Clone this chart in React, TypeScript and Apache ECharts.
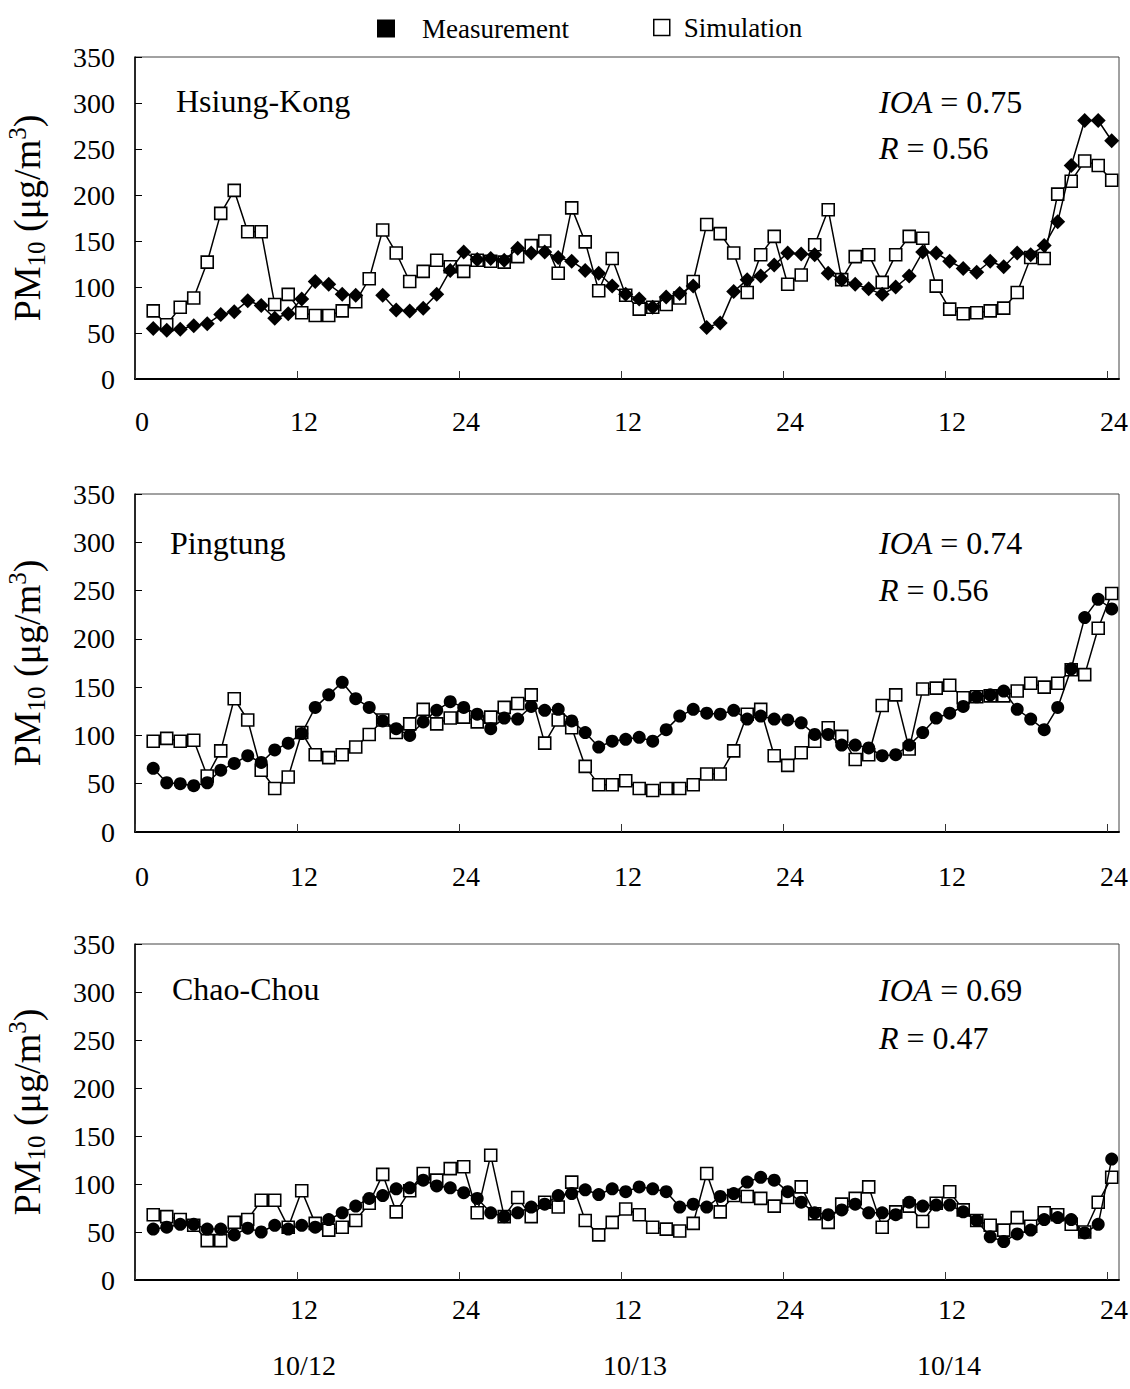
import React, { useEffect, useRef } from "react";
import * as echarts from "echarts";

// ---------- data ----------
const hours = [
  1, 2, 3, 4, 5, 6, 7, 8, 9, 10, 11, 12, 13, 14, 15, 16, 17, 18, 19, 20, 21, 22, 23, 24,
  25, 26, 27, 28, 29, 30, 31, 32, 33, 34, 35, 36, 37, 38, 39, 40, 41, 42, 43, 44, 45, 46, 47, 48,
  49, 50, 51, 52, 53, 54, 55, 56, 57, 58, 59, 60, 61, 62, 63, 64, 65, 66, 67, 68, 69, 70, 71, 72,
];
const xTickValues = [0, 12, 24, 36, 48, 60, 72];
const xTickLabels = ["0", "12", "24", "12", "24", "12", "24"];
const dayLabels = ["10/12", "10/13", "10/14"];

const stations = ["Hsiung-Kong", "Pingtung", "Chao-Chou"];
const ioaValues = ["0.75", "0.74", "0.69"];
const rValues = ["0.56", "0.56", "0.47"];

const hkMeas = [
  55, 53, 54, 58, 60, 70, 73, 85, 80, 66, 71, 87, 106, 103, 92, 91, null, 91, 75, 74, 77, 92, 118, 138, 130,
  131, 129, 142, 137, 138, 132, 128, 118, 115, 101, 92, 87, 78, 89, 93, 101, 56, 61, 95, 108, 112, 124, 137, 136,
  135, 115, 108, 103, 98, 92, 100, 112, 138, 137, 128, 120, 116, 128, 122, 137, 135, 145, 171, 232, 281, 281, 259,
];
const hkSim = [
  74, 59, 78, 88, 127, 180, 205, 160, 160, 81, 92, 72, 69, 69, 74, 84, 109, 162, 137, 106, 117, 129, 122, 117, 129,
  128, 127, 133, 145, 150, 115, 186, 149, 96, 131, 91, 76, 78, 81, 88, 106, 168, 158, 137, 94, 135, 155, 103, 113,
  146, 184, 108, 133, 135, 105, 135, 155, 153, 101, 76, 71, 72, 74, 77, 94, 132, 131, 201, 215, 237, 232, 216,
];
const ptMeas = [
  66, 51, 50, 48, 51, 64, 71, 79, 72, 85, 92, 102, 129, 142, 155, 138, 129, 115, 107, 100, 114, 126, 135, 129, 122,
  107, 118, 117, 130, 126, 127, 115, 103, 88, 94, 96, 98, 94, 106, 120, 127, 123, 122, 126, 117, 120, 117, 116, 113,
  101, 101, 90, 90, 87, 79, 80, 90, 103, 118, 123, 130, 140, 142, 146, 127, 117, 106, 129, 169, 222, 241, 231,
];
const ptSim = [
  94, 97, 94, 95, 58, 84, 138, 116, 64, 45, 57, 103, 80, 77, 80, 88, 101, 116, 103, 112, 127, 112, 118, 119, 114,
  119, 129, 133, 142, 92, 116, 108, 68, 49, 49, 53, 45, 43, 45, 45, 49, 60, 60, 84, 122, 127, 79, 69, 82,
  94, 108, 99, 75, 80, 131, 142, 86, 148, 149, 152, 139, 140, 141, 141, 146, 154, 150, 154, 168, 163, 211, 247,
];
const ccMeas = [
  53, 55, 58, 58, 53, 53, 47, 54, 50, 57, 53, 57, 55, 63, 70, 77, 85, 88, 95, 96, 104, 98, 96, 91, 85,
  70, 66, 70, 76, 79, 88, 90, 94, 89, 95, 92, 97, 95, 92, 76, 79, 76, 87, 90, 102, 107, 104, 92, 81,
  70, 68, 73, 79, 70, 70, 68, 81, 77, 78, 78, 71, 62, 45, 40, 48, 52, 63, 65, 63, 49, 58, 126,
];
const ccSim = [
  68, 66, 63, 57, 41, 41, 60, 63, 83, 83, 55, 93, 59, 52, 55, 62, 80, 110, 71, 93, 111, 104, 116, 118, 70,
  130, 66, 86, 66, 81, 76, 102, 62, 47, 60, 74, 68, 55, 53, 51, 59, 111, 71, 88, 87, 85, 77, 86, 97,
  69, 60, 79, 85, 97, 55, 71, 77, 61, 80, 92, 73, 62, 57, 52, 65, 56, 70, 68, 58, 50, 81, 107,
];

const measSets = [hkMeas, ptMeas, ccMeas];
const simSets = [hkSim, ptSim, ccSim];
const measSymbols = ["diamond", "circle", "circle"];

// ---------- layout ----------
const FONT = "'Liberation Serif', 'Times New Roman', serif";
const gridTops = [57, 494, 944];
const gridHeights = [322, 338, 336];
const xLabelMargins = [28, 30, 15];
const GRID_LEFT = 135;
const GRID_WIDTH = 984;

function buildOption() {
  const grids: any[] = [];
  const xAxes: any[] = [];
  const yAxes: any[] = [];
  const series: any[] = [];
  const graphics: any[] = [];

  for (let p = 0; p < 3; p++) {
    grids.push({
      left: GRID_LEFT,
      top: gridTops[p],
      width: GRID_WIDTH,
      height: gridHeights[p],
      containLabel: false,
      outerBoundsMode: "none",
      show: true,
      borderColor: "#444",
      borderWidth: 1,
      backgroundColor: "transparent",
    });
    const labelValues = p === 2 ? xTickValues.slice(1) : xTickValues;
    // display axis
    xAxes.push({
      type: "value",
      gridIndex: p,
      position: "bottom",
      min: 0,
      max: 72.89,
      axisLine: { show: true, onZero: false, lineStyle: { color: "#000", width: 2 } },
      axisTick: {
        show: true,
        inside: true,
        length: 8,
        customValues: xTickValues,
        lineStyle: { color: "#333", width: 1 },
      },
      axisLabel: {
        show: true,
        customValues: labelValues,
        margin: xLabelMargins[p],
        fontSize: 28,
        fontFamily: FONT,
        color: "#000",
        padding: [0, 0, 0, 14],
        formatter: (v: number) => {
          const i = xTickValues.indexOf(Math.round(v));
          return i >= 0 ? xTickLabels[i] : "";
        },
      },
      splitLine: { show: false },
    });
    // data axis (hidden)
    xAxes.push({
      type: "value",
      gridIndex: p,
      position: "bottom",
      min: -0.35,
      max: 72.54,
      show: false,
      splitLine: { show: false },
    });
    yAxes.push({
      type: "value",
      gridIndex: p,
      min: 0,
      max: 350,
      interval: 50,
      axisLine: { show: true, lineStyle: { color: "#000", width: 1.5 } },
      axisTick: { show: true, inside: true, length: 7, lineStyle: { color: "#000", width: 1 } },
      axisLabel: { margin: 20, fontSize: 28, fontFamily: FONT, color: "#000" },
      splitLine: { show: false },
      name: "{n|PM}{sub|10}{n| (μg/m}{sup|3}{n|)}",
      nameLocation: "middle",
      nameRotate: 90,
      nameGap: 86,
      nameTextStyle: {
        color: "#000",
        fontFamily: FONT,
        fontSize: 38,
        rich: {
          n: { fontSize: 38, fontFamily: FONT, color: "#000", lineHeight: 44, verticalAlign: "middle" },
          sub: { fontSize: 25, fontFamily: FONT, color: "#000", lineHeight: 30, verticalAlign: "bottom" },
          sup: { fontSize: 25, fontFamily: FONT, color: "#000", lineHeight: 30, verticalAlign: "top" },
        },
      },
    });

    series.push({
      name: "Simulation",
      type: "line",
      xAxisIndex: p * 2 + 1,
      yAxisIndex: p,
      data: hours.map((h, i) => [h, simSets[p][i]]),
      symbol: "rect",
      symbolSize: 12,
      showAllSymbol: true,
      connectNulls: false,
      z: 2,
      lineStyle: { color: "#000", width: 1.5 },
      itemStyle: { color: "#fff", borderColor: "#000", borderWidth: 1.6 },
      emphasis: { disabled: true },
    });
    series.push({
      name: "Measurement",
      type: "line",
      xAxisIndex: p * 2 + 1,
      yAxisIndex: p,
      data: hours.map((h, i) => [h, measSets[p][i]]),
      symbol: measSymbols[p],
      symbolSize: measSymbols[p] === "diamond" ? 15 : 13,
      showAllSymbol: true,
      connectNulls: false,
      z: 3,
      lineStyle: { color: "#000", width: 1.5 },
      itemStyle: { color: "#000", borderColor: "#000", borderWidth: 0 },
      emphasis: { disabled: true },
    });
  }

  // station names and statistics
  const nameX = [176, 170, 172];
  const nameY = [101, 543, 989];
  const ioaY = [102, 543, 990];
  const rY = [148, 590, 1038];
  for (let p = 0; p < 3; p++) {
    graphics.push({
      type: "text",
      x: nameX[p],
      y: nameY[p],
      style: {
        text: stations[p],
        fontSize: 32,
        fontFamily: FONT,
        fill: "#000",
        align: "left",
        verticalAlign: "middle",
      },
    });
    graphics.push({
      type: "text",
      x: 879,
      y: ioaY[p],
      style: {
        text: "{i|IOA} = " + ioaValues[p],
        fontSize: 32,
        fontFamily: FONT,
        fill: "#000",
        align: "left",
        verticalAlign: "middle",
        rich: { i: { fontStyle: "italic", fontSize: 32, fontFamily: FONT, fill: "#000" } },
      },
    });
    graphics.push({
      type: "text",
      x: 879,
      y: rY[p],
      style: {
        text: "{i|R} = " + rValues[p],
        fontSize: 32,
        fontFamily: FONT,
        fill: "#000",
        align: "left",
        verticalAlign: "middle",
        rich: { i: { fontStyle: "italic", fontSize: 32, fontFamily: FONT, fill: "#000" } },
      },
    });
  }
  const dayX = [304, 635, 949];
  dayLabels.forEach((d, i) => {
    graphics.push({
      type: "text",
      x: dayX[i],
      y: 1365,
      style: {
        text: d,
        fontSize: 28,
        fontFamily: FONT,
        fill: "#000",
        align: "center",
        verticalAlign: "middle",
      },
    });
  });

  return {
    animation: false,
    backgroundColor: "#fff",
    textStyle: { fontFamily: FONT },
    legend: [
      {
        data: [{ name: "Measurement", icon: "rect", itemStyle: { color: "#000", borderWidth: 0 } }],
        left: 377,
        top: 15,
        padding: 0,
        itemWidth: 18,
        itemHeight: 18,
        selectedMode: false,
        textStyle: { fontSize: 27, fontFamily: FONT, color: "#000", padding: [0, 0, 0, 22] },
      },
      {
        data: [
          {
            name: "Simulation",
            icon: "rect",
            itemStyle: { color: "#fff", borderColor: "#000", borderWidth: 1.5 },
          },
        ],
        left: 653,
        top: 14,
        padding: 0,
        itemWidth: 16,
        itemHeight: 16,
        selectedMode: false,
        textStyle: { fontSize: 27, fontFamily: FONT, color: "#000", padding: [0, 0, 0, 9] },
      },
    ],
    grid: grids,
    xAxis: xAxes,
    yAxis: yAxes,
    series,
    graphic: graphics,
  };
}

export default function App() {
  const ref = useRef<HTMLDivElement>(null);
  useEffect(() => {
    document.body.style.margin = "0";
    if (!ref.current) return;
    const chart = echarts.init(ref.current, null, { renderer: "svg" });
    chart.setOption(buildOption() as any);
    return () => chart.dispose();
  }, []);
  return <div ref={ref} style={{ width: 1130, height: 1389, background: "#fff" }} />;
}
